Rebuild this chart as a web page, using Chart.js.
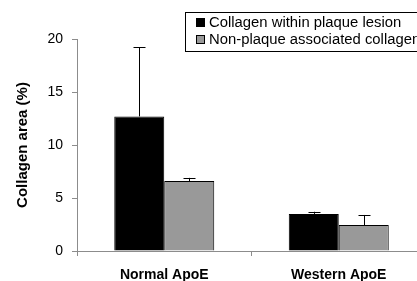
<!DOCTYPE html>
<html>
<head>
<meta charset="utf-8">
<script src="https://cdn.jsdelivr.net/npm/chart.js@4"></script>
<style>
  html, body { margin: 0; padding: 0; background: #fff; overflow: hidden; }
  #wrap { width: 417px; height: 281px; overflow: hidden; }
</style>
</head>
<body>
<div id="wrap"><canvas id="myChart" width="430" height="281"></canvas></div>
<script>
// data
var groups = ["Normal ApoE", "Western ApoE"];
var seriesNames = ["Collagen within plaque lesion", "Non-plaque associated collagen"];
var plaqueValues = [12.7, 3.5];
var plaqueErrors = [6.5, 0.2];
var nonPlaqueValues = [6.6, 2.45];
var nonPlaqueErrors = [0.3, 0.95];
var yTicks = [0, 5, 10, 15, 20];

var axisGray = "#8c8c8c";

// upward error bars with caps
var errorBars = {
    id: "errorBars",
    afterDatasetsDraw: function(chart) {
        var ctx = chart.ctx;
        var yScale = chart.scales.y;
        ctx.save();
        ctx.strokeStyle = "#000";
        ctx.lineWidth = 1;
        chart.data.datasets.forEach(function(ds, i) {
            var meta = chart.getDatasetMeta(i);
            meta.data.forEach(function(bar, j) {
                var top = yScale.getPixelForValue(ds.data[j] + ds.errors[j]);
                var x = Math.round(bar.x) + 0.5;
                ctx.beginPath();
                ctx.moveTo(x, bar.y);
                ctx.lineTo(x, top);
                ctx.moveTo(x - 6, Math.round(top) + 0.5);
                ctx.lineTo(x + 6, Math.round(top) + 0.5);
                ctx.stroke();
            });
        });
        ctx.restore();
    }
};

// boxed legend in the top right corner (text a bit stretched like the original)
var boxLegend = {
    id: "boxLegend",
    afterDraw: function(chart) {
        var ctx = chart.ctx;
        ctx.save();
        ctx.strokeStyle = "#000";
        ctx.lineWidth = 1;
        ctx.fillStyle = "#fff";
        ctx.fillRect(185.5, 12.5, 260, 39);
        ctx.strokeRect(185.5, 12.5, 260, 39);
        ctx.font = "14px 'Liberation Sans', Arial, sans-serif";
        ctx.textBaseline = "middle";
        chart.data.datasets.forEach(function(ds, i) {
            var y = 23 + i * 17;
            ctx.fillStyle = ds.backgroundColor;
            ctx.fillRect(196.5, y - 4.5, 8, 8);
            ctx.strokeRect(196.5, y - 4.5, 8, 8);
            ctx.fillStyle = "#000";
            ctx.save();
            ctx.translate(209, y);
            ctx.scale(1.06, 1);
            ctx.fillText(ds.label, 0, 0);
            ctx.restore();
        });
        ctx.restore();
    }
};

var ctx = document.getElementById("myChart").getContext("2d");

var myChart = new Chart(ctx, {
    type: "bar",
    data: {
        labels: groups,
        datasets: [
            {
            label: seriesNames[0],
            backgroundColor: "#000000",
            borderColor: "#000000",
            borderWidth: 1,
            data: plaqueValues,
            errors: plaqueErrors
            },
            {
            label: seriesNames[1],
            backgroundColor: "#999999",
            borderColor: "#000000",
            borderWidth: 1,
            data: nonPlaqueValues,
            errors: nonPlaqueErrors
            }]
    },
    options: {
        responsive: false,
        animation: false,
        devicePixelRatio: 1,
        layout: { padding: { top: 39, right: 4, left: 0, bottom: 0 } },
        datasets: { bar: { categoryPercentage: 0.573, barPercentage: 1 } },
        plugins: {
            legend: { display: false },
            tooltip: { enabled: false }
        },
        scales: {
            x: {
                grid: { drawOnChartArea: false, color: axisGray, tickLength: 5, offset: true },
                border: { color: axisGray },
                ticks: {
                    color: "#000",
                    padding: 11,
                    font: { family: "'Liberation Sans', Arial, sans-serif", size: 14, weight: "bold" }
                },
                afterFit: function(scale) { scale.height = 30; }
            },
            y: {
                min: 0,
                max: 20,
                afterBuildTicks: function(scale) {
                    scale.ticks = yTicks.map(function(v) { return { value: v }; });
                },
                grid: { drawOnChartArea: false, color: axisGray, tickLength: 5 },
                border: { color: axisGray },
                ticks: {
                    color: "#000",
                    padding: 9,
                    font: { family: "'Liberation Sans', Arial, sans-serif", size: 14 }
                },
                title: {
                    display: true,
                    text: "Collagen area (%)",
                    color: "#000",
                    padding: { top: 14, bottom: 0 },
                    font: { family: "'Liberation Sans', Arial, sans-serif", size: 15, weight: "bold" }
                },
                afterFit: function(scale) { scale.width = 77; }
            }
        }
    },
    plugins: [errorBars, boxLegend]
});
</script>
</body>
</html>
